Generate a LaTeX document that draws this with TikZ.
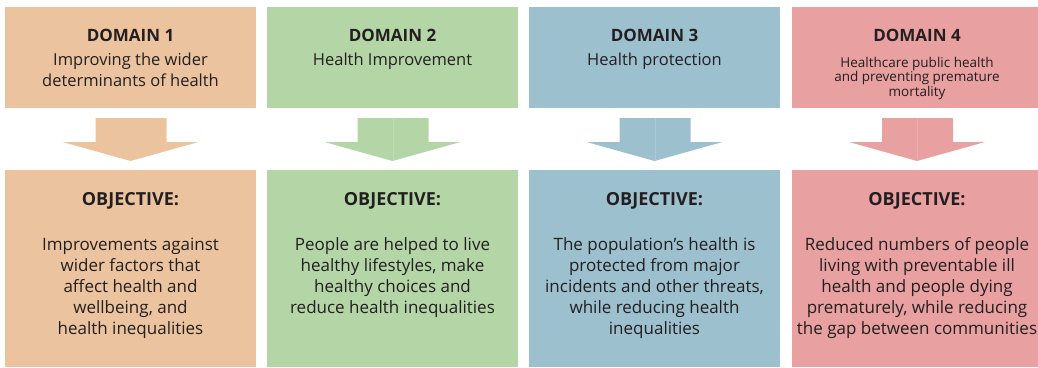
\documentclass[tikz,border=0pt]{standalone}
\usepackage{fontspec}
\setmainfont{Open Sans}
\definecolor{ink}{HTML}{231F20}
\definecolor{dom1}{HTML}{EBC49F}
\definecolor{dom2}{HTML}{B4D6A7}
\definecolor{dom3}{HTML}{9DC0CF}
\definecolor{dom4}{HTML}{E8A0A1}
\tikzset{
  panel/.style={draw=none, inner sep=0pt, anchor=north west, minimum width=251pt},
  toppanel/.style={panel, minimum height=101pt},
  lowpanel/.style={panel, minimum height=197pt},
  heading/.style={anchor=base, inner sep=0pt, text=ink, font=\fontsize{17}{21}\selectfont\bfseries},
  subline/.style={anchor=base, inner sep=0pt, text=ink, align=center, font=\fontsize{16.5}{21}\selectfont},
  smallsub/.style={anchor=base, inner sep=0pt, text=ink, align=center, font=\fontsize{13.5}{14.5}\selectfont},
  objhead/.style={anchor=base, inner sep=0pt, text=ink, font=\fontsize{18}{21}\selectfont\bfseries},
  objtext/.style={anchor=base, inner sep=0pt, text=ink, align=center, font=\fontsize{17}{21}\selectfont},
}
% block arrow pointing down, centred at x = #1, in colour #2
\newcommand{\downblock}[2]{%
  \fill[#2] (#1-35,118) -- (#1+36,118) -- (#1+36,142) -- (#1+68,142)
    -- (#1,161) -- (#1-68,142) -- (#1-35,142) -- cycle;
}
\begin{document}
\begin{tikzpicture}[x=1pt,y=-1pt]
\useasboundingbox (0,0) rectangle (1038,367);
\clip (0,0) rectangle (1038,367);

% domain panels
\node[toppanel, fill=dom1] (d1) at (5,7) {};
\node[toppanel, fill=dom2] (d2) at (267,7) {};
\node[toppanel, fill=dom3] (d3) at (529,7) {};
\node[toppanel, fill=dom4] (d4) at (792,7) {};

% objective panels
\node[lowpanel, fill=dom1] (o1) at (5,170) {};
\node[lowpanel, fill=dom2] (o2) at (267,170) {};
\node[lowpanel, fill=dom3] (o3) at (529,170) {};
\node[lowpanel, fill=dom4] (o4) at (792,170) {};

% arrows from each domain to its objective
\downblock{130.5}{dom1}
\downblock{392.5}{dom2}
\downblock{654.5}{dom3}
\downblock{917}{dom4}
\foreach \cx/\cc in {392.5/dom2, 654.5/dom3, 917/dom4}
  \draw[\cc!85!white, line width=0.6pt] (\cx+0.5,118) -- (\cx+0.5,160);

% domain titles (multi-line nodes are placed by their last baseline)
\node[heading] (h1) at (130.5,41) {DOMAIN 1};
\node[heading] (h2) at (392.5,41) {DOMAIN 2};
\node[heading] (h3) at (654.5,41) {DOMAIN 3};
\node[heading] (h4) at (917,41) {DOMAIN 4};

\node[subline] (s1) at (130.5,86) {Improving the wider\\determinants of health};
\node[subline] (s2) at (392.5,65) {Health Improvement};
\node[subline] (s3) at (654.5,65) {Health protection};
\node[smallsub] (s4) at (917,96) {Healthcare public health\\and preventing premature\\mortality};

% objectives
\node[objhead] (oh1) at (130.5,205) {OBJECTIVE:};
\node[objhead] (oh2) at (392.5,205) {OBJECTIVE:};
\node[objhead] (oh3) at (654.5,205) {OBJECTIVE:};
\node[objhead] (oh4) at (917,205) {OBJECTIVE:};

\node[objtext] (t1) at (130.5,334) {Improvements against\\wider factors that\\affect health and\\wellbeing, and\\health inequalities};
\node[objtext] (t2) at (392.5,313) {People are helped to live\\healthy lifestyles, make\\healthy choices and\\reduce health inequalities};
\node[objtext] (t3) at (654.5,334) {The population’s health is\\protected from major\\incidents and other threats,\\while reducing health\\inequalities};
\node[objtext] (t4) at (917,334) {Reduced numbers of people\\living with preventable ill\\health and people dying\\prematurely, while reducing\\the gap between communities};
\end{tikzpicture}
\end{document}
